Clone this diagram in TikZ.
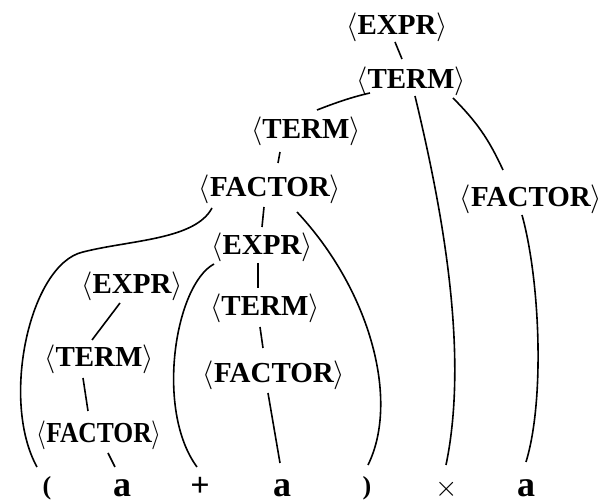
\documentclass[tikz,border=0pt]{standalone}
\usepackage{fontspec}
\setmainfont{Liberation Serif}
\usepackage{tikz}
\usetikzlibrary{calc}

\begin{document}
\begin{tikzpicture}[x=0.5pt, y=-0.5pt,
    sym/.style={font=\bfseries\fontsize{14.5}{16}\selectfont, inner sep=0pt, text height=9.6pt, text depth=0pt},
    tok/.style={font=\bfseries\fontsize{14.5}{16}\selectfont, inner sep=0pt, anchor=base},
    letter/.style={tok, font=\bfseries\fontsize{18}{19}\selectfont, text depth=0pt},
    paren/.style={tok, font=\bfseries\fontsize{13}{14}\selectfont},
    plus/.style={tok, font=\bfseries\fontsize{17}{18}\selectfont},
    branch/.style={line width=0.8pt}]

\useasboundingbox[fill=white] (0,0) rectangle (607,502);

% nonterminals
\node[sym] (e1) at (397,25) {$\langle$EXPR$\rangle$};
\node[sym] (t1) at (411,79) {$\langle$TERM$\rangle$};
\node[sym] (t2) at (306,129) {$\langle$TERM$\rangle$};
\node[sym] (f1) at (270,187) {$\langle$FACTOR$\rangle$};
\node[sym] (f2) at (531,197) {$\langle$FACTOR$\rangle$};
\node[sym] (e2) at (262,245) {$\langle$EXPR$\rangle$};
\node[sym] (e3) at (132,284) {$\langle$EXPR$\rangle$};
\node[sym] (t3) at (265,306) {$\langle$TERM$\rangle$};
\node[sym] (t4) at (99,357) {$\langle$TERM$\rangle$};
\node[sym] (f3) at (274,373) {$\langle$FACTOR$\rangle$};
\node[sym, xscale=0.88] (f4) at (99,433) {$\langle$FACTOR$\rangle$};

% terminals
\node[paren] (lp) at (47,495) {(};
\node[letter] (a1) at (122,497) {a};
\node[plus] (pl) at (200,497) {+};
\node[letter] (a2) at (282,497) {a};
\node[paren] (rp) at (367,495) {)};
\node[tok] (ti) at (447,497) {$\times$};
\node[letter] (a3) at (526,497) {a};

% branches
\draw[branch] ($(e1)+(-2,17)$) -- ($(t1)+(-9,-20)$);
\draw[branch] ($(t1)+(-41,14)$) .. controls (352,97) and (335,103) .. ($(t2)+(11,-19)$);
\draw[branch] ($(t1)+(4,17)$) .. controls (440,200) and (470,350) .. ($(ti.base)+(-1,-32)$);
\draw[branch] ($(t1)+(42,19)$) to[bend left=10] ($(f2)+(-28,-27)$);
\draw[branch] ($(t2)+(-26,23)$) -- ($(f1)+(8,-24)$);
\draw[branch] ($(f1)+(-58,21)$) .. controls (195,240) and (130,240) .. (83,252)
    .. controls (30,264) and (0,400) .. ($(lp.base)+(-10,-28)$);
\draw[branch] ($(f1)+(-6,20)$) -- ($(e2)+(0,-18)$);
\draw[branch] ($(f1)+(27,25)$) .. controls (370,290) and (400,400) .. ($(rp.base)+(1,-30)$);
\draw[branch] ($(f2)+(-9,18)$) .. controls (540,280) and (545,400) .. ($(a3.base)+(0,-35)$);
\draw[branch] ($(e2)+(-48,19)$) .. controls (175,285) and (155,410) .. ($(pl.base)+(-3,-30)$);
\draw[branch] ($(e2)+(-4,18)$) -- ($(t3)+(-7,-18)$);
\draw[branch] ($(t3)+(-5,21)$) -- ($(f3)+(-11,-25)$);
\draw[branch] ($(f3)+(-6,20)$) -- ($(a2.base)+(-2,-34)$);
\draw[branch] ($(e3)+(-12,19)$) -- ($(t4)+(-7,-17)$);
\draw[branch] ($(t4)+(-16,21)$) -- ($(f4)+(-11,-22)$);
\draw[branch] ($(f4)+(9,20)$) -- ($(a1.base)+(-7,-30)$);

\end{tikzpicture}
\end{document}
